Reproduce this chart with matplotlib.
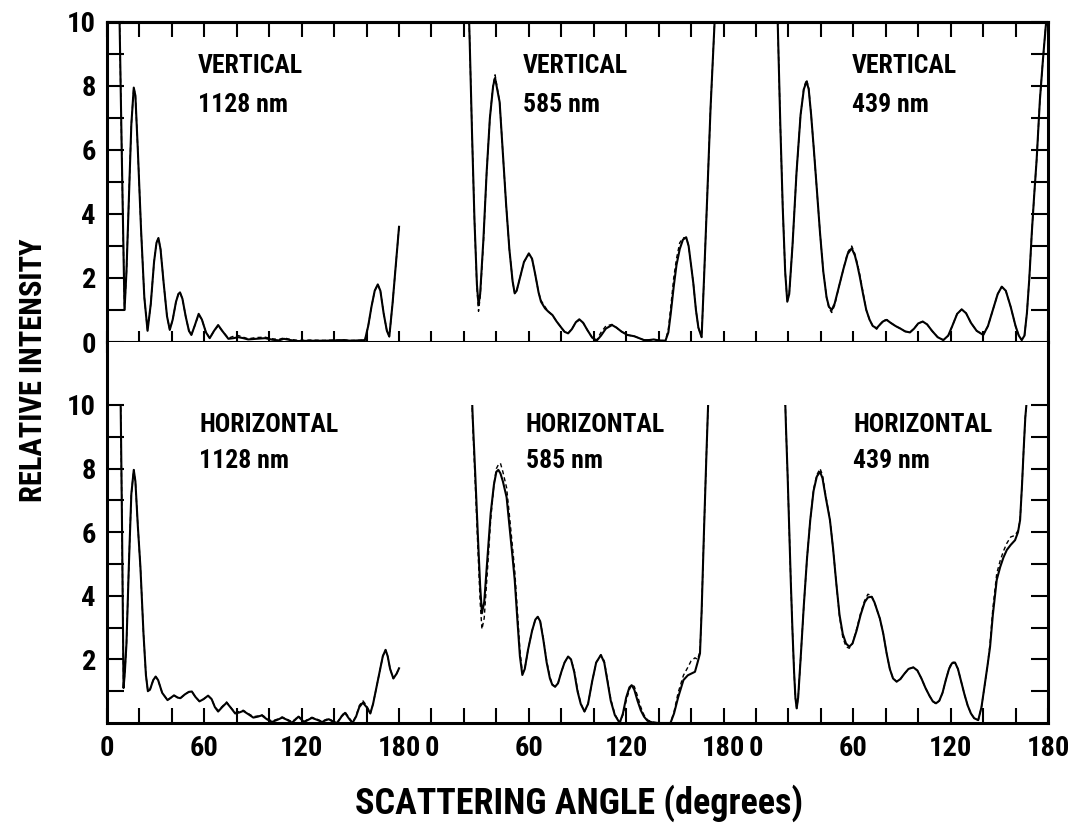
import numpy as np
import matplotlib
matplotlib.use("Agg")
import matplotlib.pyplot as plt
from matplotlib import font_manager as fm
from matplotlib.transforms import Bbox, TransformedBbox

# ---------------- data (scattering angle in degrees, relative intensity) -------------
# VERTICAL 1128 nm
ANG_V1128 = [7.5, 9, 10, 10.8, 12, 13.5, 15, 16.5, 17.5, 19, 21, 23, 25, 27, 29, 30.5, 31.7, 33, 35, 37,
             38.7, 40.5, 42.5, 44, 45, 46.5, 48.5, 50.5, 52, 54, 56.5, 58.5, 61, 63.3, 66, 68.5, 71, 74.8,
             78, 81, 84, 87, 92, 97.5, 102, 106, 109, 113, 117.7, 125, 134, 140, 146, 150, 155, 159, 161,
             163, 165, 166.9, 168.5, 170.5, 172.5, 174, 176, 178, 180]
SOL_V1128 = [10.8, 6.2, 3.3, 1.0, 2.2, 4.5, 6.8, 7.95, 7.7, 6.0, 3.5, 1.4, 0.35, 1.2, 2.5, 3.1, 3.25, 2.9, 1.8,
             0.8, 0.38, 0.7, 1.25, 1.5, 1.55, 1.35, 0.8, 0.35, 0.22, 0.5, 0.88, 0.7, 0.3, 0.12, 0.35, 0.53,
             0.35, 0.1, 0.12, 0.15, 0.12, 0.08, 0.1, 0.12, 0.07, 0.05, 0.1, 0.06, 0.03, 0.04, 0.04, 0.05,
             0.06, 0.04, 0.05, 0.06, 0.5, 1.1, 1.6, 1.8, 1.6, 0.9, 0.35, 0.17, 1.2, 2.4, 3.6]
DSH_V1128 = [10.8, 6.2, 3.3, 1.0, 2.2, 4.5, 6.8, 7.95, 7.7, 6.0, 3.5, 1.4, 0.35, 1.2, 2.5, 3.1, 3.25, 2.9, 1.8,
             0.8, 0.38, 0.7, 1.25, 1.5, 1.55, 1.35, 0.8, 0.35, 0.22, 0.5, 0.85, 0.7, 0.3, 0.12, 0.35, 0.5,
             0.35, 0.12, 0.18, 0.2, 0.15, 0.1, 0.14, 0.15, 0.1, 0.08, 0.13, 0.08, 0.05, 0.06, 0.05, 0.06,
             0.06, 0.05, 0.05, 0.06, 0.5, 1.1, 1.6, 1.8, 1.6, 0.9, 0.35, 0.17, 1.2, 2.4, 3.6]

# VERTICAL 585 nm
ANG_V585 = [22, 23.5, 25, 26.5, 28, 29, 30, 32, 34, 36, 38, 39.2, 40.5, 42, 44, 46, 48, 50, 51.3, 52.5,
            54.5, 57, 60, 62, 64, 66, 67.5, 70, 72, 74.6, 77, 80, 82, 84.2, 86.5, 89, 91.1, 93.5, 96, 99,
            101.8, 104.5, 107.5, 111.3, 114, 117, 120.7, 125, 128, 131, 134, 137, 140, 144.2, 146, 147.5,
            149.3, 151, 153, 155, 157, 158.5, 160, 161.4, 163, 164.5, 166.5, 168, 170, 172, 174.5, 176]
SOL_V585 = [12.0, 9.5, 6.5, 3.8, 1.8, 1.16, 1.5, 3.2, 5.3, 7.0, 8.0, 8.25, 7.9, 7.5, 5.9, 4.3, 2.9, 1.9,
            1.52, 1.6, 2.0, 2.5, 2.77, 2.6, 2.1, 1.55, 1.26, 1.05, 0.95, 0.84, 0.65, 0.45, 0.32, 0.27, 0.4,
            0.62, 0.71, 0.6, 0.38, 0.14, 0.04, 0.2, 0.42, 0.53, 0.45, 0.33, 0.22, 0.18, 0.12, 0.06, 0.06,
            0.08, 0.05, 0.04, 0.3, 0.9, 1.73, 2.4, 2.9, 3.2, 3.27, 3.0, 2.4, 1.83, 1.0, 0.45, 0.15, 2.0,
            4.6, 7.3, 10.0, 12.0]
DSH_V585 = [12.0, 9.5, 6.5, 3.8, 1.7, 0.96, 1.4, 3.1, 5.3, 7.0, 8.05, 8.35, 7.95, 7.5, 5.9, 4.3, 2.9, 1.9,
            1.52, 1.6, 2.0, 2.5, 2.75, 2.6, 2.1, 1.55, 1.3, 1.1, 0.95, 0.84, 0.65, 0.45, 0.32, 0.27, 0.4,
            0.62, 0.68, 0.6, 0.38, 0.14, 0.06, 0.3, 0.5, 0.55, 0.45, 0.33, 0.22, 0.18, 0.12, 0.06, 0.06,
            0.08, 0.05, 0.04, 0.4, 1.1, 2.0, 2.6, 3.1, 3.25, 3.27, 3.0, 2.4, 1.83, 1.0, 0.45, 0.15, 2.0,
            4.6, 7.3, 10.0, 12.0]

# VERTICAL 439 nm
ANG_V439 = [12.5, 13.5, 15, 16.5, 18, 19.3, 20.5, 22.5, 25, 27.5, 29.5, 31.2, 32.5, 34, 35.7, 37.4, 39.5,
            41.5, 43.5, 45, 46.7, 48.5, 51, 54, 56.5, 59, 61, 62.5, 64, 66, 68, 70, 72, 74.4, 76.5, 78.5,
            80.6, 83, 86, 89, 92, 94.9, 97.5, 100, 102.8, 105.5, 108.5, 112, 115.5, 118.5, 121, 124, 126.8,
            129.5, 132.5, 136, 140.1, 143, 146, 149, 151.5, 154, 157, 160, 162, 163.8, 165.5, 167, 168.5,
            170, 171.5, 173, 175, 177, 178.5, 180]
SOL_V439 = [12.0, 9.8, 6.8, 4.2, 2.2, 1.26, 1.5, 3.0, 5.3, 7.1, 7.9, 8.14, 7.9, 7.1, 6.0, 4.85, 3.4, 2.2,
            1.4, 1.1, 1.0, 1.2, 1.7, 2.3, 2.75, 2.93, 2.7, 2.4, 2.04, 1.5, 1.0, 0.7, 0.5, 0.43, 0.55, 0.65,
            0.69, 0.6, 0.5, 0.42, 0.33, 0.3, 0.42, 0.58, 0.64, 0.55, 0.35, 0.15, 0.06, 0.2, 0.5, 0.88, 1.02,
            0.9, 0.6, 0.35, 0.22, 0.5, 1.0, 1.5, 1.73, 1.6, 1.1, 0.5, 0.2, 0.06, 0.2, 0.9, 2.0, 3.4, 4.6,
            5.7, 7.56, 8.9, 9.8, 10.6]
DSH_V439 = [12.0, 9.8, 6.8, 4.2, 2.2, 1.26, 1.5, 3.0, 5.3, 7.1, 7.95, 8.2, 7.95, 7.1, 6.0, 4.85, 3.4, 2.2,
            1.4, 1.05, 0.92, 1.15, 1.7, 2.3, 2.8, 3.0, 2.75, 2.45, 2.1, 1.55, 1.0, 0.7, 0.5, 0.4, 0.55, 0.68,
            0.7, 0.6, 0.5, 0.42, 0.33, 0.3, 0.42, 0.58, 0.64, 0.55, 0.35, 0.15, 0.06, 0.2, 0.5, 0.88, 1.02,
            0.9, 0.6, 0.35, 0.22, 0.5, 1.0, 1.5, 1.73, 1.6, 1.1, 0.5, 0.2, 0.06, 0.2, 0.9, 2.0, 3.4, 4.6,
            5.7, 7.56, 8.9, 9.8, 10.6]

# HORIZONTAL 1128 nm
ANG_H1128 = [8.3, 9.2, 10.2, 11, 12, 13.5, 15, 16.5, 17.5, 19, 20.6, 22.5, 24, 25.2, 26.5, 28.5, 30, 31.5,
             34, 37.3, 39.5, 41.3, 43.5, 45.2, 48, 50.5, 52.3, 54.5, 57, 59.5, 62.3, 64.5, 66.5, 68.5, 71,
             73.75, 76, 79, 81.5, 84, 87, 90.2, 93, 95.4, 98.5, 101.6, 105, 108, 111, 114, 116, 118, 120,
             121.5, 124, 126.3, 129.5, 132.6, 134.5, 136.7, 139, 141.9, 144.5, 146.7, 149, 151.3, 153.5,
             155.5, 157.7, 160, 162.3, 164, 166, 168, 170, 171.7, 173, 174.5, 176.5, 178.5, 180]
SOL_H1128 = [10.6, 6.5, 1.1, 1.6, 2.5, 5.0, 7.2, 7.96, 7.6, 6.2, 4.9, 2.8, 1.5, 1.0, 1.05, 1.35, 1.46,
             1.35, 0.95, 0.72, 0.8, 0.87, 0.8, 0.78, 0.9, 0.98, 0.99, 0.82, 0.68, 0.75, 0.86, 0.75, 0.5,
             0.36, 0.5, 0.64, 0.5, 0.3, 0.33, 0.38, 0.28, 0.17, 0.2, 0.24, 0.12, 0.03, 0.1, 0.17, 0.1, 0.01,
             0.1, 0.2, 0.1, 0.03, 0.1, 0.16, 0.1, 0.03, 0.08, 0.12, 0.05, 0.0, 0.2, 0.32, 0.15, 0.0, 0.2,
             0.5, 0.64, 0.5, 0.3, 0.6, 1.1, 1.6, 2.1, 2.3, 2.1, 1.7, 1.4, 1.55, 1.72]
DSH_H1128 = [10.6, 6.5, 1.1, 1.6, 2.5, 5.0, 7.2, 7.96, 7.6, 6.2, 4.9, 2.8, 1.5, 1.0, 1.05, 1.35, 1.46,
             1.35, 0.95, 0.72, 0.8, 0.87, 0.8, 0.78, 0.9, 0.98, 0.99, 0.82, 0.68, 0.75, 0.86, 0.75, 0.5,
             0.4, 0.52, 0.66, 0.5, 0.33, 0.36, 0.4, 0.3, 0.2, 0.22, 0.26, 0.15, 0.06, 0.12, 0.19, 0.12, 0.04,
             0.12, 0.22, 0.12, 0.05, 0.12, 0.18, 0.12, 0.05, 0.1, 0.14, 0.07, 0.02, 0.22, 0.35, 0.18, 0.02,
             0.22, 0.55, 0.7, 0.55, 0.3, 0.6, 1.1, 1.6, 2.1, 2.3, 2.1, 1.7, 1.4, 1.55, 1.72]

# HORIZONTAL 585 nm
ANG_H585 = [24, 25.5, 27, 28.5, 30, 31.1, 32.5, 34.5, 36.5, 38.5, 40, 41.2, 42.5, 44, 46.3, 48.3, 50,
            51.3, 53, 54.5, 56, 57.5, 59.5, 62, 64, 65.5, 67, 69, 71, 73, 74.5, 76.2, 78, 80, 82, 84.2, 86,
            88, 90, 92, 94.3, 96.5, 99, 101.5, 104.4, 106.5, 108.5, 110.5, 113, 116, 118, 120, 122, 123.4,
            125, 127, 129, 131, 133.1, 136, 140, 147.3, 149.5, 152, 155.3, 158, 160, 162.4, 164, 165.5,
            166.5, 168, 169.5, 170.5, 171.5]
SOL_H585 = [11.5, 9.5, 7.8, 6.0, 4.3, 3.45, 3.8, 5.2, 6.6, 7.5, 7.9, 7.96, 7.85, 7.6, 7.1, 6.07, 5.2,
            4.5, 3.2, 2.1, 1.51, 1.7, 2.3, 2.9, 3.25, 3.34, 3.2, 2.6, 1.9, 1.4, 1.2, 1.14, 1.25, 1.6, 1.9,
            2.09, 2.0, 1.6, 1.0, 0.6, 0.36, 0.6, 1.3, 1.9, 2.14, 1.9, 1.3, 0.7, 0.25, 0.0, 0.3, 0.8, 1.12,
            1.19, 1.05, 0.7, 0.4, 0.2, 0.07, 0.02, 0.0, 0.0, 0.3, 0.8, 1.35, 1.5, 1.55, 1.61, 1.9, 2.19,
            3.5, 6.1, 8.5, 10.0, 11.5]
DSH_H585 = [11.5, 9.3, 7.5, 5.6, 3.8, 2.95, 3.3, 4.8, 6.4, 7.5, 8.0, 8.12, 8.17, 7.9, 7.4, 6.4, 5.5,
            4.8, 3.5, 2.3, 1.58, 1.7, 2.3, 2.9, 3.25, 3.34, 3.2, 2.65, 1.95, 1.45, 1.22, 1.14, 1.25, 1.6,
            1.9, 2.09, 2.0, 1.65, 1.05, 0.62, 0.36, 0.6, 1.3, 1.9, 2.14, 1.95, 1.35, 0.75, 0.28, 0.0, 0.25,
            0.7, 1.05, 1.2, 1.15, 0.85, 0.5, 0.25, 0.1, 0.03, 0.0, 0.0, 0.35, 0.95, 1.5, 1.75, 1.95, 2.05,
            2.0, 2.25, 3.5, 6.1, 8.5, 10.0, 11.5]

# HORIZONTAL 439 nm
ANG_H439 = [17.5, 18.5, 19.5, 20.5, 21.5, 22.5, 23.5, 24.3, 25.1, 26, 27.5, 29.5, 31.5, 33.5, 35.5, 37.5,
            39.5, 41, 43, 45.6, 47.5, 49.5, 51.5, 53.5, 55.5, 57.5, 59.5, 62, 64.5, 67, 69, 71.3, 73, 76.4,
            78.5, 80.5, 82.5, 84.5, 86.7, 89, 91.5, 94, 97, 99.5, 102, 104.5, 107, 109, 111, 113, 115, 117,
            119, 120.8, 122.7, 124.5, 126.5, 128.5, 130.5, 132.5, 134.5, 137, 139, 141, 142.7, 144.3, 146,
            148.4, 150.5, 152.5, 154.6, 157, 159.7, 161.5, 162.8, 164, 165, 166, 167, 168]
SOL_H439 = [11.0, 9.3, 7.8, 6.1, 4.4, 2.9, 1.6, 0.8, 0.46, 0.8, 2.0, 3.7, 5.2, 6.4, 7.3, 7.75, 7.9, 7.7,
            7.1, 6.38, 5.5, 4.4, 3.4, 2.8, 2.5, 2.4, 2.5, 2.9, 3.4, 3.8, 3.95, 3.97, 3.8, 3.28, 2.8, 2.2,
            1.7, 1.4, 1.3, 1.38, 1.55, 1.7, 1.75, 1.65, 1.4, 1.1, 0.85, 0.68, 0.62, 0.7, 0.95, 1.35, 1.7,
            1.88, 1.9, 1.7, 1.3, 0.9, 0.55, 0.3, 0.15, 0.09, 0.5, 1.2, 1.8, 2.4, 3.4, 4.5, 4.9, 5.2, 5.44,
            5.6, 5.75, 6.0, 6.38, 7.5, 8.6, 9.6, 10.2, 11.0]
DSH_H439 = [11.0, 9.3, 7.8, 6.1, 4.4, 2.9, 1.6, 0.8, 0.46, 0.8, 2.0, 3.7, 5.2, 6.4, 7.35, 7.8, 8.0, 7.8,
            7.15, 6.4, 5.5, 4.4, 3.35, 2.7, 2.4, 2.35, 2.5, 2.95, 3.45, 3.85, 4.05, 4.0, 3.8, 3.28, 2.8, 2.2,
            1.7, 1.4, 1.3, 1.38, 1.55, 1.7, 1.75, 1.65, 1.4, 1.1, 0.85, 0.68, 0.6, 0.7, 0.95, 1.35, 1.72,
            1.92, 1.9, 1.7, 1.3, 0.9, 0.55, 0.3, 0.15, 0.09, 0.5, 1.2, 1.8, 2.5, 3.6, 4.7, 5.1, 5.4, 5.65,
            5.85, 5.9, 6.05, 6.38, 7.5, 8.6, 9.6, 10.2, 11.0]

TOP_LABELS = [("VERTICAL", "1128 nm"), ("VERTICAL", "585 nm"), ("VERTICAL", "439 nm")]
BOT_LABELS = [("HORIZONTAL", "1128 nm"), ("HORIZONTAL", "585 nm"), ("HORIZONTAL", "439 nm")]
X_TICK_ANGLES = [0, 60, 120, 180]
Y_LABEL = "RELATIVE INTENSITY"
X_LABEL = "SCATTERING ANGLE (degrees)"

# ---------------- font selection (condensed bold look) -------------
def pick_font():
    names = {f.name for f in fm.fontManager.ttflist}
    for cand in ["Roboto Condensed", "Liberation Sans Narrow", "Open Sans Condensed",
                 "Noto Sans Condensed", "DejaVu Sans Condensed", "Arial Narrow"]:
        if cand in names:
            return cand, "normal"
    for f in fm.fontManager.ttflist:
        if f.name in ("DejaVu Sans", "Noto Sans", "Open Sans", "Roboto") and "condensed" in str(f.stretch):
            return f.name, "condensed"
    return "DejaVu Sans", "normal"

FONT, STRETCH = pick_font()
FP = dict(family=FONT, fontweight="bold", fontstretch=STRETCH, color="black")

# ---------------- layout -------------
W, H = 1071, 833
fig = plt.figure(figsize=(W / 100, H / 100), dpi=100)
L, R = 107 / W, 1048 / W
ax_top = fig.add_axes([L, 1 - 342 / H, R - L, (342 - 22) / H])
ax_bot = fig.add_axes([L, 1 - 723 / H, R - L, (723 - 342) / H])

PANEL_OFF = 200.0       # each panel is placed 200 units after the previous
XMAX = 2 * PANEL_OFF + 180
BOT_YMAX = 10 * (723 - 342) / (723 - 405)

for ax in (ax_top, ax_bot):
    ax.set_xlim(0, XMAX)
    for sp in ax.spines.values():
        sp.set_linewidth(2.2)
ax_top.set_ylim(0, 10)
ax_bot.set_ylim(0, BOT_YMAX)
ax_bot.spines["top"].set_visible(False)

top_series = [(ANG_V1128, SOL_V1128, DSH_V1128), (ANG_V585, SOL_V585, DSH_V585), (ANG_V439, SOL_V439, DSH_V439)]
bot_series = [(ANG_H1128, SOL_H1128, DSH_H1128), (ANG_H585, SOL_H585, DSH_H585), (ANG_H439, SOL_H439, DSH_H439)]

clip_bot = TransformedBbox(Bbox([[-10, -1], [XMAX + 10, 10]]), ax_bot.transData)

def draw(ax, series, clipbox=None):
    for i, (ang, sol, dsh) in enumerate(series):
        assert len(ang) == len(sol) == len(dsh), (len(ang), len(sol), len(dsh))
        x = i * PANEL_OFF + np.asarray(ang, float)
        ld, = ax.plot(x, dsh, color="black", lw=1.0, ls=(0, (3, 2.2)))
        ls, = ax.plot(x, sol, color="black", lw=1.5, solid_joinstyle="round")
        if clipbox is not None:
            ld.set_clip_box(clipbox)
            ls.set_clip_box(clipbox)

draw(ax_top, top_series)
draw(ax_bot, bot_series, clip_bot)

# panel labels
TXT_SIZE = 18.5
top_x = [56, 56.5, 59]
bot_x = [57, 58, 60]
for i, (a, b) in enumerate(TOP_LABELS):
    ax_top.text(i * PANEL_OFF + top_x[i], 8.4, a, fontsize=TXT_SIZE, va="baseline", ha="left", **FP)
    ax_top.text(i * PANEL_OFF + top_x[i], 7.19, b, fontsize=TXT_SIZE, va="baseline", ha="left", **FP)
for i, (a, b) in enumerate(BOT_LABELS):
    ax_bot.text(i * PANEL_OFF + bot_x[i], 9.15, a, fontsize=TXT_SIZE, va="baseline", ha="left", **FP)
    ax_bot.text(i * PANEL_OFF + bot_x[i], 8.02, b, fontsize=TXT_SIZE, va="baseline", ha="left", **FP)

# ticks
all20 = np.arange(0, XMAX + 1, 20)
ax_top.set_xticks(all20)
ax_top.tick_params(axis="x", direction="inout", length=16, width=1.5, bottom=True, top=False,
                   labelbottom=False)
sec = ax_top.secondary_xaxis("top")
sec.set_xticks(all20)
sec.tick_params(direction="in", length=11, width=1.5, labeltop=False)
sec.spines["top"].set_linewidth(2.2)

xpos = [i * PANEL_OFF + a for i in range(3) for a in X_TICK_ANGLES]
xlab = [str(a) for i in range(3) for a in X_TICK_ANGLES]
ax_bot.set_xticks(xpos)
ax_bot.set_xticklabels(xlab)
ax_bot.set_xticks(all20, minor=True)
ax_bot.tick_params(axis="x", which="both", direction="in", length=11, width=1.5, top=False, pad=9)

ax_top.set_yticks(np.arange(0, 11, 2))
ax_top.set_yticks(np.arange(0, 11, 1), minor=True)
ax_bot.set_yticks(np.arange(2, 11, 2))
ax_bot.set_yticks(np.arange(1, 10, 2), minor=True)
for ax in (ax_top, ax_bot):
    ax.tick_params(axis="y", which="both", direction="in", length=12, width=1.5, left=True, right=True,
                   labelright=False, pad=8)

TICK_SIZE = 20.5
for ax in (ax_top, ax_bot):
    for lab in ax.get_xticklabels() + ax.get_yticklabels():
        lab.set_fontsize(TICK_SIZE)
        lab.set_fontfamily(FONT)
        lab.set_fontweight("bold")
        lab.set_fontstretch(STRETCH)

fig.text(0.031, 1 - 370 / H, Y_LABEL, rotation=90, ha="center", va="center", fontsize=22, **FP)
fig.text(579 / W, 1 - 803 / H, X_LABEL, ha="center", va="center", fontsize=26, **FP)

fig.savefig("out.png", dpi=100, facecolor="white")
